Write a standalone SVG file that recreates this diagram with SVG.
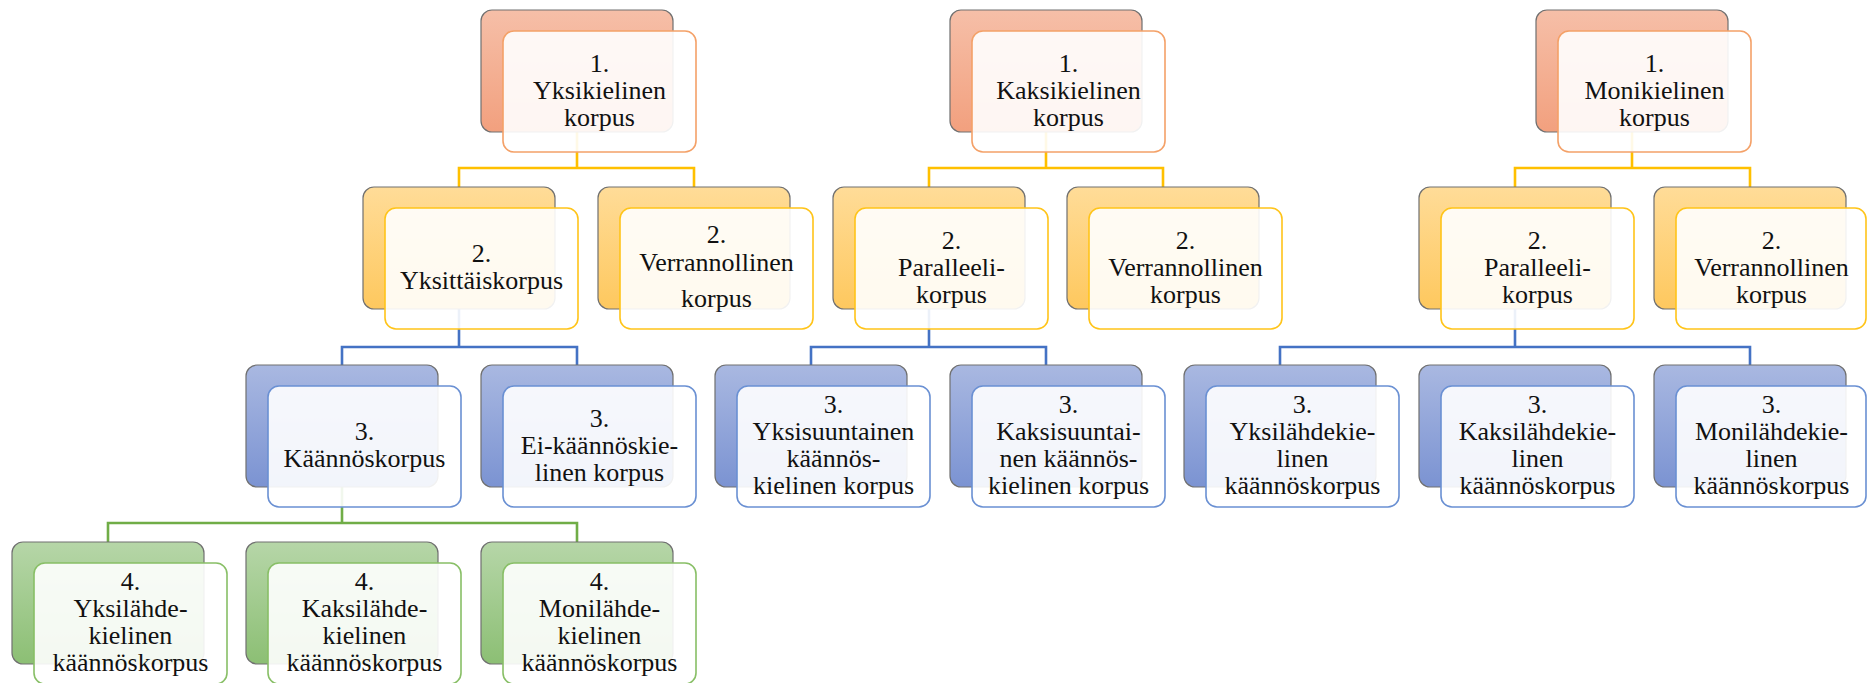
<svg xmlns="http://www.w3.org/2000/svg" width="1867" height="683" viewBox="0 0 1867 683">
<defs>
<linearGradient id="g1" x1="0" y1="0" x2="0" y2="1"><stop offset="0" stop-color="#F6BFA8"/><stop offset="1" stop-color="#F2A07E"/></linearGradient>
<linearGradient id="g2" x1="0" y1="0" x2="0" y2="1"><stop offset="0" stop-color="#FFDC98"/><stop offset="1" stop-color="#FEC85E"/></linearGradient>
<linearGradient id="g3" x1="0" y1="0" x2="0" y2="1"><stop offset="0" stop-color="#A9B8E1"/><stop offset="1" stop-color="#7B93D2"/></linearGradient>
<linearGradient id="g4" x1="0" y1="0" x2="0" y2="1"><stop offset="0" stop-color="#B6D6A8"/><stop offset="1" stop-color="#8CBF74"/></linearGradient>
</defs>
<style>
.back{stroke:#707070;stroke-width:1.2}
.front{fill:#FFFFFF;fill-opacity:0.9;stroke-width:1.6}
.l1 .back{fill:url(#g1)} .l1 .front{stroke:#F4A168}
.l2 .back{fill:url(#g2)} .l2 .front{stroke:#FFC419}
.l3 .back{fill:url(#g3)} .l3 .front{stroke:#6A90D3}
.l4 .back{fill:url(#g4)} .l4 .front{stroke:#88BF66}
text{font-family:Liberation Serif,Tinos,Times New Roman,DejaVu Serif,Noto Serif,serif;font-size:26px;fill:#111;text-anchor:middle}
.c{fill:none;stroke-width:2.6}
.cy{stroke:#FFC000}.cb{stroke:#4472C4}.cg{stroke:#70AD47}
</style>
<rect width="1867" height="683" fill="#FFFFFF"/>
<g id="connectors">
<path class="c cy" d="M577 132V168M459 187V168H694V187"/>
<path class="c cb" d="M459 308V347M342 365V347H577V365"/>
<path class="c cg" d="M342 487V523M108 542V523H577V542"/>
<path class="c cy" d="M1046 132V168M929 187V168H1163V187"/>
<path class="c cb" d="M929 308V347M811 365V347H1046V365"/>
<path class="c cy" d="M1632 132V168M1515 187V168H1750V187"/>
<path class="c cb" d="M1515 308V347M1280 365V347H1750V365"/>
</g>
<g id="t1-l1" class="l1"><rect class="back" x="481" y="10" width="192" height="122" rx="11"/><rect class="front" x="503" y="31" width="193" height="121" rx="11"/><text x="599.5" y="71.5">1.</text><text x="599.5" y="98.5">Yksikielinen</text><text x="599.5" y="125.5">korpus</text></g>
<g id="t1-l2a" class="l2"><rect class="back" x="363" y="187" width="192" height="122" rx="11"/><rect class="front" x="385" y="208" width="193" height="121" rx="11"/><text x="481.5" y="262">2.</text><text x="481.5" y="289">Yksittäiskorpus</text></g>
<g id="t1-l2b" class="l2"><rect class="back" x="598" y="187" width="192" height="122" rx="11"/><rect class="front" x="620" y="208" width="193" height="121" rx="11"/><text x="716.5" y="243">2.</text><text x="716.5" y="271">Verrannollinen</text><text x="716.5" y="307">korpus</text></g>
<g id="t1-l3a" class="l3"><rect class="back" x="246" y="365" width="192" height="122" rx="11"/><rect class="front" x="268" y="386" width="193" height="121" rx="11"/><text x="364.5" y="440">3.</text><text x="364.5" y="467">Käännöskorpus</text></g>
<g id="t1-l3b" class="l3"><rect class="back" x="481" y="365" width="192" height="122" rx="11"/><rect class="front" x="503" y="386" width="193" height="121" rx="11"/><text x="599.5" y="426.5">3.</text><text x="599.5" y="453.5">Ei-käännöskie-</text><text x="599.5" y="480.5">linen korpus</text></g>
<g id="t1-l4a" class="l4"><rect class="back" x="12" y="542" width="192" height="122" rx="11"/><rect class="front" x="34" y="563" width="193" height="121" rx="11"/><text x="130.5" y="590">4.</text><text x="130.5" y="617">Yksilähde-</text><text x="130.5" y="644">kielinen</text><text x="130.5" y="671">käännöskorpus</text></g>
<g id="t1-l4b" class="l4"><rect class="back" x="246" y="542" width="192" height="122" rx="11"/><rect class="front" x="268" y="563" width="193" height="121" rx="11"/><text x="364.5" y="590">4.</text><text x="364.5" y="617">Kaksilähde-</text><text x="364.5" y="644">kielinen</text><text x="364.5" y="671">käännöskorpus</text></g>
<g id="t1-l4c" class="l4"><rect class="back" x="481" y="542" width="192" height="122" rx="11"/><rect class="front" x="503" y="563" width="193" height="121" rx="11"/><text x="599.5" y="590">4.</text><text x="599.5" y="617">Monilähde-</text><text x="599.5" y="644">kielinen</text><text x="599.5" y="671">käännöskorpus</text></g>
<g id="t2-l1" class="l1"><rect class="back" x="950" y="10" width="192" height="122" rx="11"/><rect class="front" x="972" y="31" width="193" height="121" rx="11"/><text x="1068.5" y="71.5">1.</text><text x="1068.5" y="98.5">Kaksikielinen</text><text x="1068.5" y="125.5">korpus</text></g>
<g id="t2-l2a" class="l2"><rect class="back" x="833" y="187" width="192" height="122" rx="11"/><rect class="front" x="855" y="208" width="193" height="121" rx="11"/><text x="951.5" y="248.5">2.</text><text x="951.5" y="275.5">Paralleeli-</text><text x="951.5" y="302.5">korpus</text></g>
<g id="t2-l2b" class="l2"><rect class="back" x="1067" y="187" width="192" height="122" rx="11"/><rect class="front" x="1089" y="208" width="193" height="121" rx="11"/><text x="1185.5" y="248.5">2.</text><text x="1185.5" y="275.5">Verrannollinen</text><text x="1185.5" y="302.5">korpus</text></g>
<g id="t2-l3a" class="l3"><rect class="back" x="715" y="365" width="192" height="122" rx="11"/><rect class="front" x="737" y="386" width="193" height="121" rx="11"/><text x="833.5" y="413">3.</text><text x="833.5" y="440">Yksisuuntainen</text><text x="833.5" y="467">käännös-</text><text x="833.5" y="494">kielinen korpus</text></g>
<g id="t2-l3b" class="l3"><rect class="back" x="950" y="365" width="192" height="122" rx="11"/><rect class="front" x="972" y="386" width="193" height="121" rx="11"/><text x="1068.5" y="413">3.</text><text x="1068.5" y="440">Kaksisuuntai-</text><text x="1068.5" y="467">nen käännös-</text><text x="1068.5" y="494">kielinen korpus</text></g>
<g id="t3-l1" class="l1"><rect class="back" x="1536" y="10" width="192" height="122" rx="11"/><rect class="front" x="1558" y="31" width="193" height="121" rx="11"/><text x="1654.5" y="71.5">1.</text><text x="1654.5" y="98.5">Monikielinen</text><text x="1654.5" y="125.5">korpus</text></g>
<g id="t3-l2a" class="l2"><rect class="back" x="1419" y="187" width="192" height="122" rx="11"/><rect class="front" x="1441" y="208" width="193" height="121" rx="11"/><text x="1537.5" y="248.5">2.</text><text x="1537.5" y="275.5">Paralleeli-</text><text x="1537.5" y="302.5">korpus</text></g>
<g id="t3-l2b" class="l2"><rect class="back" x="1654" y="187" width="192" height="122" rx="11"/><rect class="front" x="1676" y="208" width="190" height="121" rx="11"/><text x="1771.5" y="248.5">2.</text><text x="1771.5" y="275.5">Verrannollinen</text><text x="1771.5" y="302.5">korpus</text></g>
<g id="t3-l3a" class="l3"><rect class="back" x="1184" y="365" width="192" height="122" rx="11"/><rect class="front" x="1206" y="386" width="193" height="121" rx="11"/><text x="1302.5" y="413">3.</text><text x="1302.5" y="440">Yksilähdekie-</text><text x="1302.5" y="467">linen</text><text x="1302.5" y="494">käännöskorpus</text></g>
<g id="t3-l3b" class="l3"><rect class="back" x="1419" y="365" width="192" height="122" rx="11"/><rect class="front" x="1441" y="386" width="193" height="121" rx="11"/><text x="1537.5" y="413">3.</text><text x="1537.5" y="440">Kaksilähdekie-</text><text x="1537.5" y="467">linen</text><text x="1537.5" y="494">käännöskorpus</text></g>
<g id="t3-l3c" class="l3"><rect class="back" x="1654" y="365" width="192" height="122" rx="11"/><rect class="front" x="1676" y="386" width="190" height="121" rx="11"/><text x="1771.5" y="413">3.</text><text x="1771.5" y="440">Monilähdekie-</text><text x="1771.5" y="467">linen</text><text x="1771.5" y="494">käännöskorpus</text></g>
</svg>
